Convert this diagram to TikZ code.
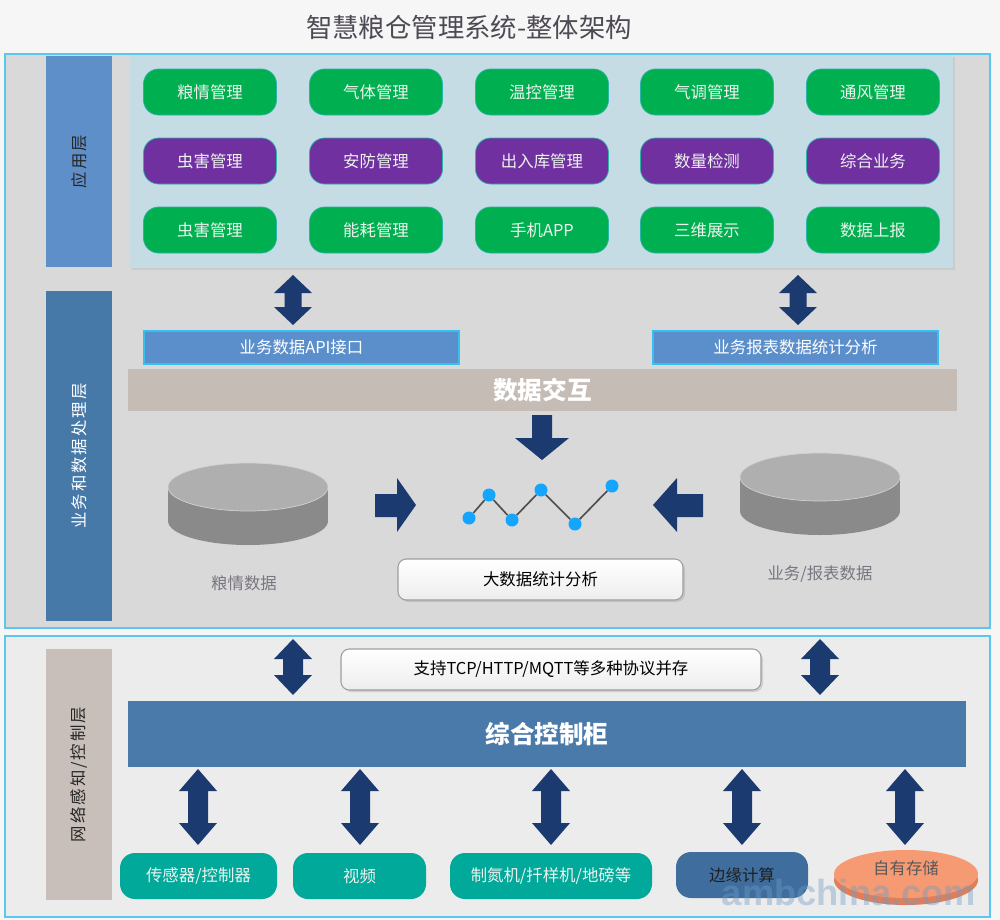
\documentclass[tikz,border=0pt]{standalone}
\usepackage{fontspec}
\newfontfamily\cjk{Noto Sans CJK SC}
\newfontfamily\cjksp[LetterSpace=12]{Noto Sans CJK SC}
\newfontfamily\wmfont{Liberation Sans}
\usetikzlibrary{shadows}
\definecolor{pagebg}{HTML}{F6F6F6}
\definecolor{panelA}{HTML}{D9D9D9}
\definecolor{panelB}{HTML}{ECECEC}
\definecolor{panelborder}{HTML}{5BC6EE}
\definecolor{appsbg}{HTML}{C6DCE5}
\definecolor{labA}{HTML}{5E8FC9}
\definecolor{labB}{HTML}{4679A8}
\definecolor{labC}{HTML}{C9BFBA}
\definecolor{cgreen}{HTML}{00B050}
\definecolor{cpurple}{HTML}{7030A0}
\definecolor{btnborder}{HTML}{2AB3A8}
\definecolor{btntext}{HTML}{EDF3ED}
\definecolor{apifill}{HTML}{5B8FCB}
\definecolor{apiborder}{HTML}{35C0F0}
\definecolor{xchgfill}{HTML}{C6BCB6}
\definecolor{arrowc}{HTML}{1B3A6F}
\definecolor{cyltop}{HTML}{AFAFAF}
\definecolor{cylside}{HTML}{8A8A8A}
\definecolor{dotc}{HTML}{14A5FF}
\definecolor{chartline}{HTML}{4D4D4D}
\definecolor{ctlfill}{HTML}{4A7AA9}
\definecolor{tealbox}{HTML}{00A99A}
\definecolor{edgebox}{HTML}{3F6E9E}
\definecolor{salmon}{HTML}{F59A72}
\definecolor{salmondark}{HTML}{E07E5A}
\definecolor{titlec}{HTML}{4E4A54}
\definecolor{graytext}{HTML}{7A7580}
\definecolor{wmc}{HTML}{6F9CC6}

\tikzset{
  every node/.style={font=\cjk\fontsize{14}{16}\selectfont, inner sep=0pt},
  sz/.style 2 args={minimum width=#1*0.03cm, minimum height=#2*0.03cm},
  panel/.style={draw=panelborder, line width=1.2pt},
  btn/.style={rounded corners=0.45cm, sz={133}{46}, draw=btnborder, line width=0.6pt, text=btntext},
  gbtn/.style={btn, fill=cgreen},
  pbtn/.style={btn, fill=cpurple},
  layerlab/.style={rotate=90, font=\cjksp\fontsize{14}{16}\selectfont},
  apibox/.style={fill=apifill, draw=apiborder, line width=1pt, text=white, sz={#1}{33}},
  softbox/.style={rounded corners=0.25cm, top color=white, bottom color=black!7, draw=black!38, line width=0.9pt,
     drop shadow={opacity=0.25, shadow xshift=0.06cm, shadow yshift=-0.06cm}},
  botbox/.style={rounded corners=0.45cm, fill=tealbox, text=btntext, sz={#1}{46}},
  dot/.style={circle, fill=dotc, minimum size=0.39cm},
}

% vertical double arrow: x, ytop, ybottom, head width, shaft width, head length
\newcommand{\vdarrow}[6]{%
  \fill[arrowc] (#1-#5/2,#2+#6) -- (#1-#4/2,#2+#6) -- (#1,#2) -- (#1+#4/2,#2+#6)
    -- (#1+#5/2,#2+#6) -- (#1+#5/2,#3-#6) -- (#1+#4/2,#3-#6) -- (#1,#3)
    -- (#1-#4/2,#3-#6) -- (#1-#5/2,#3-#6) -- cycle;}

\begin{document}
\begin{tikzpicture}[x=0.03cm,y=-0.03cm]
% page
\fill[pagebg] (0,0) rectangle (1000,920);
\useasboundingbox (0,0) rectangle (1000,920);

% title
\node[text=titlec, font=\cjk\fontsize{22.5}{26}\selectfont] (title) at (469,27) {智慧粮仓管理系统-整体架构};

% ===== upper panel =====
\node[panel, fill=panelA, sz={985}{574}] (p1) at (497.5,341) {};
\node[fill=appsbg, sz={823}{213}, drop shadow={opacity=0.15, shadow xshift=0.05cm, shadow yshift=-0.05cm}] (apps) at (541.5,161.5) {};
\node[fill=labA, sz={66}{211}] (L1) at (79,161.5) {};
\node[layerlab, text=black!85] at (L1) {应用层};

% buttons
\node[gbtn] (a11) at (210,92) {粮情管理};
\node[gbtn] (a12) at (376,92) {气体管理};
\node[gbtn] (a13) at (542,92) {温控管理};
\node[gbtn] (a14) at (707,92) {气调管理};
\node[gbtn] (a15) at (873,92) {通风管理};
\node[pbtn] (a21) at (210,161) {虫害管理};
\node[pbtn] (a22) at (376,161) {安防管理};
\node[pbtn] (a23) at (542,161) {出入库管理};
\node[pbtn] (a24) at (707,161) {数量检测};
\node[pbtn] (a25) at (873,161) {综合业务};
\node[gbtn] (a31) at (210,230) {虫害管理};
\node[gbtn] (a32) at (376,230) {能耗管理};
\node[gbtn] (a33) at (542,230) {手机APP};
\node[gbtn] (a34) at (707,230) {三维展示};
\node[gbtn] (a35) at (873,230) {数据上报};

% layer 2 label
\node[fill=labB, sz={66}{330}] (L2) at (79,456) {};
\node[layerlab, text=white] at (L2) {业务和数据处理层};

% arrows apps <-> api
\vdarrow{293}{275}{325}{38}{17}{18}
\vdarrow{798}{275}{325}{38}{17}{18}

\node[apibox=315] (api) at (301.5,347.5) {业务数据API接口};
\node[apibox=285] (rpt) at (795.5,347.5) {业务报表数据统计分析};

\node[fill=xchgfill, sz={829}{42}, text=white, font=\cjk\bfseries\fontsize{21}{24}\selectfont] (xchg) at (542.5,390) {数据交互};

% down arrow
\fill[arrowc] (532,415) -- (552,415) -- (552,438) -- (569,438) -- (542,460) -- (515,438) -- (532,438) -- cycle;

% cylinders
\fill[cylside] (168,487) rectangle (328,521);
\fill[cylside] (248,521) ellipse [x radius=80, y radius=24];
\filldraw[fill=cyltop, draw=black!18, line width=0.6pt] (248,487) ellipse [x radius=80, y radius=24];
\fill[cylside] (740,477) rectangle (900,511);
\fill[cylside] (820,511) ellipse [x radius=80, y radius=24];
\filldraw[fill=cyltop, draw=black!18, line width=0.6pt] (820,477) ellipse [x radius=80, y radius=24];

\node[text=graytext] (lq) at (244,583) {粮情数据};
\node[text=graytext] (yw) at (820,574) {业务/报表数据};

% side block arrows
\fill[arrowc] (375,494) -- (397,494) -- (397,478) -- (416,505) -- (397,532) -- (397,517) -- (375,517) -- cycle;
\fill[arrowc] (703,494) -- (677,494) -- (677,478) -- (653,505) -- (677,532) -- (677,517) -- (703,517) -- cycle;

% line chart
\node[dot] (c1) at (469,518) {};
\node[dot] (c2) at (489,495) {};
\node[dot] (c3) at (512,520) {};
\node[dot] (c4) at (541,490) {};
\node[dot] (c5) at (575,524) {};
\node[dot] (c6) at (612,486) {};
\draw[chartline, line width=1.4pt] (c1) -- (c2) -- (c3) -- (c4) -- (c5) -- (c6);

\node[softbox, sz={285}{41}] (bd) at (540.5,579.5) {大数据统计分析};

% ===== lower panel =====
\node[panel, fill=panelB, sz={985}{281}] (p2) at (497.5,776.5) {};
\node[fill=labC, sz={66}{251}] (L3) at (79,774.5) {};
\node[layerlab, text=black!85] at (L3) {网络感知/控制层};

\vdarrow{293}{639}{695}{38}{20}{20}
\vdarrow{820}{639}{695}{38}{20}{20}

\node[softbox, sz={420}{41}] (tcp) at (551,669.5) {支持TCP/HTTP/MQTT等多种协议并存};

\node[fill=ctlfill, sz={838}{66}, text=white, font=\cjk\bfseries\fontsize{21}{24}\selectfont] (ctl) at (547,734) {综合控制柜};

\vdarrow{198}{769}{845}{38}{20}{22}
\vdarrow{360}{769}{845}{38}{20}{22}
\vdarrow{551}{769}{845}{38}{20}{22}
\vdarrow{742}{769}{845}{38}{20}{22}
\vdarrow{905}{769}{845}{38}{20}{22}

\node[botbox=157] (b1) at (198.5,876) {传感器/控制器};
\node[botbox=133] (b2) at (359.5,876) {视频};
\node[botbox=202] (b3) at (551,876) {制氮机/扦样机/地磅等};
\node[rounded corners=0.45cm, fill=edgebox, text=black!88, sz={132}{46}] (b4) at (742,875) {边缘计算};
\fill[salmondark] (906,880) ellipse [x radius=72, y radius=25];
\fill[salmon] (906,874) ellipse [x radius=72, y radius=24];
\node[text=black!65] (b5) at (906,868) {自有存储};

% watermark
\node[text=wmc, opacity=0.4, font=\wmfont\bfseries\fontsize{31}{34}\selectfont] (wm) at (849,893) {ambchina.com};
\end{tikzpicture}
\end{document}
